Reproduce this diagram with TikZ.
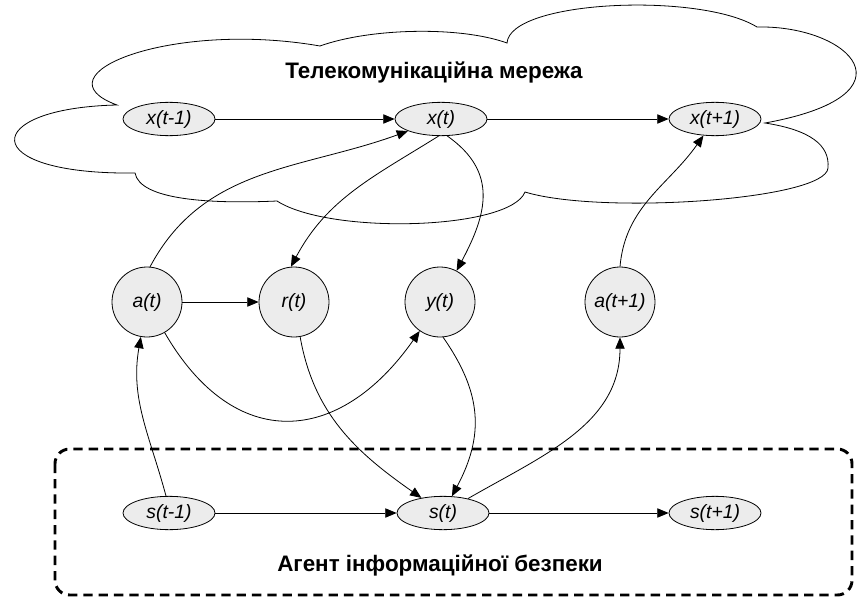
\documentclass[tikz,border=0pt]{standalone}
\usepackage{fontspec}
\setmainfont{Liberation Sans}
\usetikzlibrary{shapes.geometric,arrows.meta}

\tikzset{
  state/.style={ellipse, draw, fill=gray!15, line width=0.6pt,
    minimum width=69pt, minimum height=25pt, inner sep=0pt,
    font=\fontsize{14.5}{16}\selectfont\itshape},
  act/.style={circle, draw, fill=gray!15, line width=0.6pt,
    minimum size=52.5pt, inner sep=0pt,
    font=\fontsize{14.5}{16}\selectfont\itshape},
  arr/.style={line width=0.6pt, -{Triangle[length=8.5pt,width=7pt]}},
  title/.style={font=\fontsize{16.8}{20}\selectfont\bfseries}
}

\begin{document}
\begin{tikzpicture}[x=0.75pt, y=-0.75pt]
\useasboundingbox (0,0) rectangle (861,603);
% cloud of the network
\draw[line width=0.6pt] (117,105)
  .. controls (35,75) and (170,20) .. (320,46)
  .. controls (370,28) and (460,26) .. (507,43)
  .. controls (510,0) and (700,-8) .. (757,27)
  .. controls (850,25) and (920,95) .. (765,123)
  .. controls (810,130) and (830,145) .. (828,168)
  .. controls (826,200) and (600,215) .. (525,192)
  .. controls (510,230) and (330,235) .. (277,201)
  .. controls (210,204) and (140,200) .. (135,173)
  .. controls (-25,175) and (-20,108) .. cycle;
% agent box
\draw[line width=2.2pt, dash pattern=on 7pt off 4.5pt, rounded corners=11pt]
  (55,449) rectangle (852,595);

\node[title] (net) at (434,72) {Телекомунікаційна мережа};
\node[title] (agent) at (440,565) {Агент інформаційної безпеки};

% states of the network
\node[state] (xtm) at (169,119) {x(t-1)};
\node[state] (xt) at (441,119) {x(t)};
\node[state] (xtp) at (715,119) {x(t+1)};
% middle row
\node[act] (at) at (147,302) {a(t)};
\node[act] (rt) at (294,302) {r(t)};
\node[act] (yt) at (440,302) {y(t)};
\node[act] (atp) at (620,302) {a(t+1)};
% states of the agent
\node[state] (stm) at (169,513) {s(t-1)};
\node[state] (st) at (443,513) {s(t)};
\node[state] (stp) at (715,513) {s(t+1)};

\draw[arr] (xtm) -- (xt);
\draw[arr] (xt) -- (xtp);
\draw[arr] (at) -- (rt);
\draw[arr] (stm) -- (st);
\draw[arr] (st) -- (stp);

\draw[arr] (at.85) to[out=62, in=200] (xt);
\draw[arr] (xt.262) to[out=212, in=62] (rt.95);
\draw[arr] (xt.290) to[out=-35, in=62, looseness=1.2] (yt);
\draw[arr] (atp.north) to[out=85, in=235] (xtp);
\draw[arr] (at) to[out=-60, in=235, looseness=1.4] (yt);
\draw[arr] (stm.100) to[out=105, in=-100] (at);
\draw[arr] (rt) to[out=-80, in=145] (st);
\draw[arr] (yt.275) to[out=-55, in=62, looseness=1.1] (st);
\draw[arr] (st) to[out=30, in=-90] (atp);
\end{tikzpicture}
\end{document}
